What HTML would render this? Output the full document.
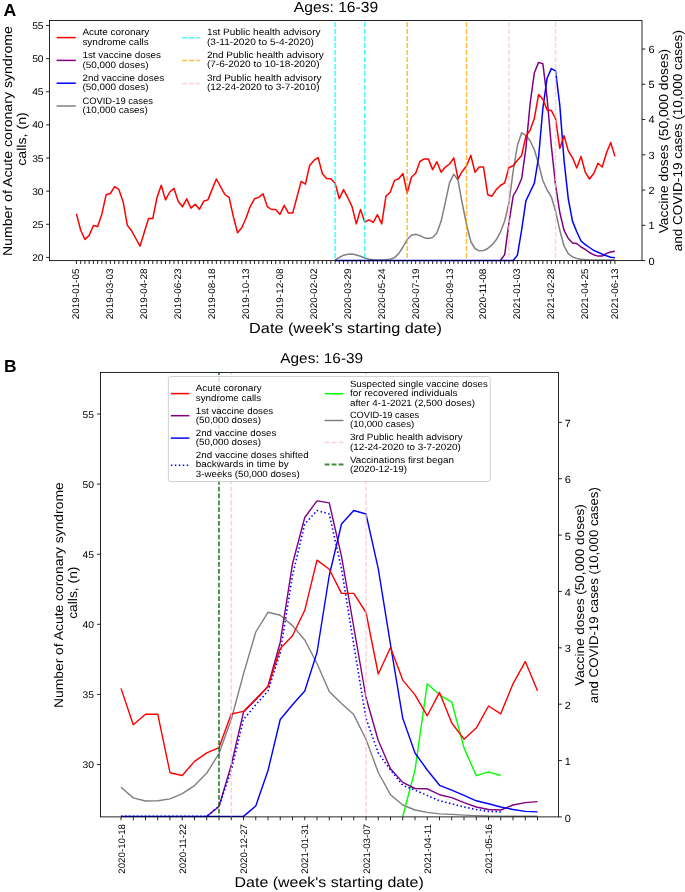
<!DOCTYPE html>
<html><head><meta charset="utf-8"><style>
html,body{margin:0;padding:0;background:#fff;}
svg{display:block;font-family:"Liberation Sans", sans-serif;text-rendering:geometricPrecision;will-change:transform;}
</style></head><body>
<svg width="685" height="892" viewBox="0 0 685 892">
<rect width="685" height="892" fill="#fff"/>
<polyline points="335.09,259.90 339.33,257.50 343.57,255.20 347.81,254.20 352.05,254.10 356.29,255.00 360.53,256.30 364.77,258.00 369.01,259.20 373.25,259.80 377.49,260.00 381.73,260.00 385.97,259.80 390.21,259.20 394.45,257.60 398.69,253.60 402.93,247.00 407.17,239.60 411.41,235.20 415.65,234.20 419.89,235.60 424.13,237.70 428.37,238.50 432.61,237.40 436.85,233.00 441.09,221.30 445.33,202.30 449.57,182.60 453.81,174.20 458.05,180.40 462.29,203.60 466.53,224.50 470.77,241.50 475.01,248.50 479.25,250.80 483.49,250.50 487.73,248.50 491.97,244.90 496.21,239.80 500.45,232.10 504.69,220.90 508.93,202.80 513.17,171.00 517.41,145.50 521.65,132.80 525.89,135.30 530.13,140.80 534.37,149.70 538.61,164.00 542.85,180.50 547.09,190.00 551.33,196.80 555.57,211.20 559.81,230.30 564.05,246.00 568.29,253.60 572.53,257.00 576.77,258.40 581.01,259.20 585.25,259.60 589.49,259.90 593.73,260.10 597.97,260.10 602.21,260.10 606.45,260.10 610.69,260.10 614.93,260.10" fill="none" stroke="#808080" stroke-width="1.5" stroke-linejoin="round" stroke-linecap="butt"/>
<polyline points="500.45,260.55 504.69,254.60 508.93,222.90 513.17,196.00 517.41,188.50 521.65,178.50 525.89,148.50 530.13,103.50 534.37,72.70 538.61,62.40 542.85,63.70 547.09,98.00 551.33,146.00 555.57,185.20 559.81,212.50 564.05,230.30 568.29,238.50 572.53,242.90 576.77,243.50 581.01,247.00 585.25,249.40 589.49,252.50 593.73,254.80 597.97,256.10 602.21,256.10 606.45,253.40 610.69,252.00 614.93,251.30" fill="none" stroke="#800080" stroke-width="1.5" stroke-linejoin="round" stroke-linecap="butt"/>
<polyline points="335.09,260.55 339.33,260.55 343.57,260.55 347.81,260.55 352.05,260.55 356.29,260.55 360.53,260.55 364.77,260.55 369.01,260.55 373.25,260.55 377.49,260.55 381.73,260.55 385.97,260.55 390.21,260.55 394.45,260.55 398.69,260.55 402.93,260.55 407.17,260.55 411.41,260.55 415.65,260.55 419.89,260.55 424.13,260.55 428.37,260.55 432.61,260.55 436.85,260.55 441.09,260.55 445.33,260.55 449.57,260.55 453.81,260.55 458.05,260.55 462.29,260.55 466.53,260.55 470.77,260.55 475.01,260.55 479.25,260.55 483.49,260.55 487.73,260.55 491.97,260.55 496.21,260.55 500.45,260.55 504.69,260.55 508.93,260.55 513.17,260.55 517.41,255.10 521.65,230.00 525.89,200.90 530.13,192.00 534.37,183.10 538.61,157.00 542.85,108.50 547.09,78.20 551.33,68.60 555.57,70.80 559.81,105.40 564.05,160.50 568.29,198.80 572.53,221.40 576.77,231.70 581.01,241.00 585.25,244.60 589.49,247.50 593.73,250.40 597.97,252.30 602.21,254.10 606.45,255.80 610.69,257.20 614.93,257.80" fill="none" stroke="#0000ff" stroke-width="1.5" stroke-linejoin="round" stroke-linecap="butt"/>
<polyline points="76.45,213.90 80.69,230.30 84.93,239.50 89.17,235.40 93.41,225.50 97.65,226.50 101.89,213.90 106.13,194.80 110.37,193.50 114.61,186.70 118.85,189.40 123.09,201.70 127.33,225.20 131.57,230.80 135.81,238.50 140.05,246.10 144.29,232.30 148.53,218.50 152.77,218.50 157.01,197.60 161.25,185.30 165.49,199.90 169.73,192.00 173.97,188.40 178.21,201.20 182.45,206.80 186.69,198.90 190.93,208.10 195.17,204.20 199.41,209.30 203.65,201.30 207.89,199.90 212.13,189.40 216.37,179.00 220.61,186.90 224.85,194.50 229.09,197.40 233.33,216.50 237.57,232.80 241.81,227.70 246.05,218.00 250.29,206.30 254.53,198.80 258.77,197.40 263.01,193.70 267.25,206.60 271.49,209.50 275.73,209.50 279.97,214.40 284.21,205.40 288.45,213.10 292.69,213.10 296.93,197.20 301.17,181.40 305.41,184.10 309.65,165.50 313.89,160.40 318.13,157.60 322.37,173.70 326.61,178.60 330.85,178.70 335.09,183.20 339.33,198.80 343.57,189.60 347.81,197.70 352.05,206.60 356.29,223.90 360.53,209.40 364.77,222.00 369.01,219.90 373.25,222.40 377.49,214.70 381.73,223.90 385.97,196.10 390.21,192.20 394.45,180.40 398.69,178.80 402.93,173.50 407.17,193.10 411.41,177.30 415.65,173.20 419.89,161.50 424.13,158.90 428.37,158.90 432.61,169.60 436.85,161.70 441.09,172.20 445.33,167.10 449.57,164.00 453.81,157.90 458.05,178.80 462.29,171.20 466.53,166.10 470.77,155.30 475.01,172.20 479.25,167.10 483.49,167.10 487.73,194.70 491.97,196.20 496.21,189.60 500.45,185.50 504.69,182.90 508.93,167.50 513.17,165.70 517.41,160.20 521.65,155.40 525.89,136.40 530.13,130.30 534.37,118.20 538.61,94.40 542.85,99.20 547.09,109.90 551.33,110.40 555.57,118.80 559.81,148.40 564.05,135.60 568.29,150.90 572.53,157.80 576.77,168.00 581.01,156.40 585.25,172.20 589.49,179.00 593.73,173.50 597.97,163.20 602.21,167.00 606.45,153.00 610.69,142.50 614.93,156.40" fill="none" stroke="#ff0000" stroke-width="1.5" stroke-linejoin="round" stroke-linecap="butt"/>
<line x1="335.09" y1="260.62" x2="335.09" y2="20.45" stroke="#00ffff" stroke-width="1.5" stroke-dasharray="4.9 2.1" stroke-opacity="0.75" stroke-dashoffset="4.4"/>
<line x1="364.77" y1="260.62" x2="364.77" y2="20.45" stroke="#00ffff" stroke-width="1.5" stroke-dasharray="4.9 2.1" stroke-opacity="0.75" stroke-dashoffset="4.4"/>
<line x1="407.17" y1="260.62" x2="407.17" y2="20.45" stroke="#ffa500" stroke-width="1.5" stroke-dasharray="4.9 2.1" stroke-opacity="0.75" stroke-dashoffset="4.4"/>
<line x1="466.53" y1="260.62" x2="466.53" y2="20.45" stroke="#ffa500" stroke-width="1.5" stroke-dasharray="4.9 2.1" stroke-opacity="0.75" stroke-dashoffset="4.4"/>
<line x1="508.93" y1="260.62" x2="508.93" y2="20.45" stroke="#ffc0cb" stroke-width="1.5" stroke-dasharray="4.9 2.1" stroke-opacity="0.75" stroke-dashoffset="4.4"/>
<line x1="555.57" y1="260.62" x2="555.57" y2="20.45" stroke="#ffc0cb" stroke-width="1.5" stroke-dasharray="4.9 2.1" stroke-opacity="0.75" stroke-dashoffset="4.4"/>
<rect x="49.52" y="20.45" width="592.48" height="240.17000000000002" fill="none" stroke="#000" stroke-width="0.85"/>
<line x1="46.12" y1="257.43" x2="49.52" y2="257.43" stroke="#000" stroke-width="0.85"/>
<text x="43.60" y="260.93" font-size="9.70" text-anchor="end" textLength="11.45" lengthAdjust="spacingAndGlyphs" fill="#000">20</text>
<line x1="46.12" y1="224.29" x2="49.52" y2="224.29" stroke="#000" stroke-width="0.85"/>
<text x="43.60" y="227.79" font-size="9.70" text-anchor="end" textLength="11.45" lengthAdjust="spacingAndGlyphs" fill="#000">25</text>
<line x1="46.12" y1="191.15" x2="49.52" y2="191.15" stroke="#000" stroke-width="0.85"/>
<text x="43.60" y="194.65" font-size="9.70" text-anchor="end" textLength="11.45" lengthAdjust="spacingAndGlyphs" fill="#000">30</text>
<line x1="46.12" y1="158.02" x2="49.52" y2="158.02" stroke="#000" stroke-width="0.85"/>
<text x="43.60" y="161.52" font-size="9.70" text-anchor="end" textLength="11.45" lengthAdjust="spacingAndGlyphs" fill="#000">35</text>
<line x1="46.12" y1="124.89" x2="49.52" y2="124.89" stroke="#000" stroke-width="0.85"/>
<text x="43.60" y="128.38" font-size="9.70" text-anchor="end" textLength="11.45" lengthAdjust="spacingAndGlyphs" fill="#000">40</text>
<line x1="46.12" y1="91.75" x2="49.52" y2="91.75" stroke="#000" stroke-width="0.85"/>
<text x="43.60" y="95.25" font-size="9.70" text-anchor="end" textLength="11.45" lengthAdjust="spacingAndGlyphs" fill="#000">45</text>
<line x1="46.12" y1="58.61" x2="49.52" y2="58.61" stroke="#000" stroke-width="0.85"/>
<text x="43.60" y="62.11" font-size="9.70" text-anchor="end" textLength="11.45" lengthAdjust="spacingAndGlyphs" fill="#000">50</text>
<line x1="46.12" y1="25.48" x2="49.52" y2="25.48" stroke="#000" stroke-width="0.85"/>
<text x="43.60" y="28.98" font-size="9.70" text-anchor="end" textLength="11.45" lengthAdjust="spacingAndGlyphs" fill="#000">55</text>
<line x1="642.00" y1="260.62" x2="645.40" y2="260.62" stroke="#000" stroke-width="0.85"/>
<text x="648.50" y="264.52" font-size="10.40" text-anchor="start" textLength="6.11" lengthAdjust="spacingAndGlyphs" fill="#000">0</text>
<line x1="642.00" y1="225.35" x2="645.40" y2="225.35" stroke="#000" stroke-width="0.85"/>
<text x="648.50" y="229.25" font-size="10.40" text-anchor="start" textLength="6.11" lengthAdjust="spacingAndGlyphs" fill="#000">1</text>
<line x1="642.00" y1="190.08" x2="645.40" y2="190.08" stroke="#000" stroke-width="0.85"/>
<text x="648.50" y="193.98" font-size="10.40" text-anchor="start" textLength="6.11" lengthAdjust="spacingAndGlyphs" fill="#000">2</text>
<line x1="642.00" y1="154.81" x2="645.40" y2="154.81" stroke="#000" stroke-width="0.85"/>
<text x="648.50" y="158.71" font-size="10.40" text-anchor="start" textLength="6.11" lengthAdjust="spacingAndGlyphs" fill="#000">3</text>
<line x1="642.00" y1="119.54" x2="645.40" y2="119.54" stroke="#000" stroke-width="0.85"/>
<text x="648.50" y="123.44" font-size="10.40" text-anchor="start" textLength="6.11" lengthAdjust="spacingAndGlyphs" fill="#000">4</text>
<line x1="642.00" y1="84.27" x2="645.40" y2="84.27" stroke="#000" stroke-width="0.85"/>
<text x="648.50" y="88.17" font-size="10.40" text-anchor="start" textLength="6.11" lengthAdjust="spacingAndGlyphs" fill="#000">5</text>
<line x1="642.00" y1="49.00" x2="645.40" y2="49.00" stroke="#000" stroke-width="0.85"/>
<text x="648.50" y="52.90" font-size="10.40" text-anchor="start" textLength="6.11" lengthAdjust="spacingAndGlyphs" fill="#000">6</text>
<line x1="76.45" y1="260.62" x2="76.45" y2="264.02" stroke="#000" stroke-width="0.85"/>
<line x1="80.69" y1="260.62" x2="80.69" y2="264.02" stroke="#000" stroke-width="0.85"/>
<line x1="84.93" y1="260.62" x2="84.93" y2="264.02" stroke="#000" stroke-width="0.85"/>
<line x1="89.17" y1="260.62" x2="89.17" y2="264.02" stroke="#000" stroke-width="0.85"/>
<line x1="93.41" y1="260.62" x2="93.41" y2="264.02" stroke="#000" stroke-width="0.85"/>
<line x1="97.65" y1="260.62" x2="97.65" y2="264.02" stroke="#000" stroke-width="0.85"/>
<line x1="101.89" y1="260.62" x2="101.89" y2="264.02" stroke="#000" stroke-width="0.85"/>
<line x1="106.13" y1="260.62" x2="106.13" y2="264.02" stroke="#000" stroke-width="0.85"/>
<line x1="110.37" y1="260.62" x2="110.37" y2="264.02" stroke="#000" stroke-width="0.85"/>
<line x1="114.61" y1="260.62" x2="114.61" y2="264.02" stroke="#000" stroke-width="0.85"/>
<line x1="118.85" y1="260.62" x2="118.85" y2="264.02" stroke="#000" stroke-width="0.85"/>
<line x1="123.09" y1="260.62" x2="123.09" y2="264.02" stroke="#000" stroke-width="0.85"/>
<line x1="127.33" y1="260.62" x2="127.33" y2="264.02" stroke="#000" stroke-width="0.85"/>
<line x1="131.57" y1="260.62" x2="131.57" y2="264.02" stroke="#000" stroke-width="0.85"/>
<line x1="135.81" y1="260.62" x2="135.81" y2="264.02" stroke="#000" stroke-width="0.85"/>
<line x1="140.05" y1="260.62" x2="140.05" y2="264.02" stroke="#000" stroke-width="0.85"/>
<line x1="144.29" y1="260.62" x2="144.29" y2="264.02" stroke="#000" stroke-width="0.85"/>
<line x1="148.53" y1="260.62" x2="148.53" y2="264.02" stroke="#000" stroke-width="0.85"/>
<line x1="152.77" y1="260.62" x2="152.77" y2="264.02" stroke="#000" stroke-width="0.85"/>
<line x1="157.01" y1="260.62" x2="157.01" y2="264.02" stroke="#000" stroke-width="0.85"/>
<line x1="161.25" y1="260.62" x2="161.25" y2="264.02" stroke="#000" stroke-width="0.85"/>
<line x1="165.49" y1="260.62" x2="165.49" y2="264.02" stroke="#000" stroke-width="0.85"/>
<line x1="169.73" y1="260.62" x2="169.73" y2="264.02" stroke="#000" stroke-width="0.85"/>
<line x1="173.97" y1="260.62" x2="173.97" y2="264.02" stroke="#000" stroke-width="0.85"/>
<line x1="178.21" y1="260.62" x2="178.21" y2="264.02" stroke="#000" stroke-width="0.85"/>
<line x1="182.45" y1="260.62" x2="182.45" y2="264.02" stroke="#000" stroke-width="0.85"/>
<line x1="186.69" y1="260.62" x2="186.69" y2="264.02" stroke="#000" stroke-width="0.85"/>
<line x1="190.93" y1="260.62" x2="190.93" y2="264.02" stroke="#000" stroke-width="0.85"/>
<line x1="195.17" y1="260.62" x2="195.17" y2="264.02" stroke="#000" stroke-width="0.85"/>
<line x1="199.41" y1="260.62" x2="199.41" y2="264.02" stroke="#000" stroke-width="0.85"/>
<line x1="203.65" y1="260.62" x2="203.65" y2="264.02" stroke="#000" stroke-width="0.85"/>
<line x1="207.89" y1="260.62" x2="207.89" y2="264.02" stroke="#000" stroke-width="0.85"/>
<line x1="212.13" y1="260.62" x2="212.13" y2="264.02" stroke="#000" stroke-width="0.85"/>
<line x1="216.37" y1="260.62" x2="216.37" y2="264.02" stroke="#000" stroke-width="0.85"/>
<line x1="220.61" y1="260.62" x2="220.61" y2="264.02" stroke="#000" stroke-width="0.85"/>
<line x1="224.85" y1="260.62" x2="224.85" y2="264.02" stroke="#000" stroke-width="0.85"/>
<line x1="229.09" y1="260.62" x2="229.09" y2="264.02" stroke="#000" stroke-width="0.85"/>
<line x1="233.33" y1="260.62" x2="233.33" y2="264.02" stroke="#000" stroke-width="0.85"/>
<line x1="237.57" y1="260.62" x2="237.57" y2="264.02" stroke="#000" stroke-width="0.85"/>
<line x1="241.81" y1="260.62" x2="241.81" y2="264.02" stroke="#000" stroke-width="0.85"/>
<line x1="246.05" y1="260.62" x2="246.05" y2="264.02" stroke="#000" stroke-width="0.85"/>
<line x1="250.29" y1="260.62" x2="250.29" y2="264.02" stroke="#000" stroke-width="0.85"/>
<line x1="254.53" y1="260.62" x2="254.53" y2="264.02" stroke="#000" stroke-width="0.85"/>
<line x1="258.77" y1="260.62" x2="258.77" y2="264.02" stroke="#000" stroke-width="0.85"/>
<line x1="263.01" y1="260.62" x2="263.01" y2="264.02" stroke="#000" stroke-width="0.85"/>
<line x1="267.25" y1="260.62" x2="267.25" y2="264.02" stroke="#000" stroke-width="0.85"/>
<line x1="271.49" y1="260.62" x2="271.49" y2="264.02" stroke="#000" stroke-width="0.85"/>
<line x1="275.73" y1="260.62" x2="275.73" y2="264.02" stroke="#000" stroke-width="0.85"/>
<line x1="279.97" y1="260.62" x2="279.97" y2="264.02" stroke="#000" stroke-width="0.85"/>
<line x1="284.21" y1="260.62" x2="284.21" y2="264.02" stroke="#000" stroke-width="0.85"/>
<line x1="288.45" y1="260.62" x2="288.45" y2="264.02" stroke="#000" stroke-width="0.85"/>
<line x1="292.69" y1="260.62" x2="292.69" y2="264.02" stroke="#000" stroke-width="0.85"/>
<line x1="296.93" y1="260.62" x2="296.93" y2="264.02" stroke="#000" stroke-width="0.85"/>
<line x1="301.17" y1="260.62" x2="301.17" y2="264.02" stroke="#000" stroke-width="0.85"/>
<line x1="305.41" y1="260.62" x2="305.41" y2="264.02" stroke="#000" stroke-width="0.85"/>
<line x1="309.65" y1="260.62" x2="309.65" y2="264.02" stroke="#000" stroke-width="0.85"/>
<line x1="313.89" y1="260.62" x2="313.89" y2="264.02" stroke="#000" stroke-width="0.85"/>
<line x1="318.13" y1="260.62" x2="318.13" y2="264.02" stroke="#000" stroke-width="0.85"/>
<line x1="322.37" y1="260.62" x2="322.37" y2="264.02" stroke="#000" stroke-width="0.85"/>
<line x1="326.61" y1="260.62" x2="326.61" y2="264.02" stroke="#000" stroke-width="0.85"/>
<line x1="330.85" y1="260.62" x2="330.85" y2="264.02" stroke="#000" stroke-width="0.85"/>
<line x1="335.09" y1="260.62" x2="335.09" y2="264.02" stroke="#000" stroke-width="0.85"/>
<line x1="339.33" y1="260.62" x2="339.33" y2="264.02" stroke="#000" stroke-width="0.85"/>
<line x1="343.57" y1="260.62" x2="343.57" y2="264.02" stroke="#000" stroke-width="0.85"/>
<line x1="347.81" y1="260.62" x2="347.81" y2="264.02" stroke="#000" stroke-width="0.85"/>
<line x1="352.05" y1="260.62" x2="352.05" y2="264.02" stroke="#000" stroke-width="0.85"/>
<line x1="356.29" y1="260.62" x2="356.29" y2="264.02" stroke="#000" stroke-width="0.85"/>
<line x1="360.53" y1="260.62" x2="360.53" y2="264.02" stroke="#000" stroke-width="0.85"/>
<line x1="364.77" y1="260.62" x2="364.77" y2="264.02" stroke="#000" stroke-width="0.85"/>
<line x1="369.01" y1="260.62" x2="369.01" y2="264.02" stroke="#000" stroke-width="0.85"/>
<line x1="373.25" y1="260.62" x2="373.25" y2="264.02" stroke="#000" stroke-width="0.85"/>
<line x1="377.49" y1="260.62" x2="377.49" y2="264.02" stroke="#000" stroke-width="0.85"/>
<line x1="381.73" y1="260.62" x2="381.73" y2="264.02" stroke="#000" stroke-width="0.85"/>
<line x1="385.97" y1="260.62" x2="385.97" y2="264.02" stroke="#000" stroke-width="0.85"/>
<line x1="390.21" y1="260.62" x2="390.21" y2="264.02" stroke="#000" stroke-width="0.85"/>
<line x1="394.45" y1="260.62" x2="394.45" y2="264.02" stroke="#000" stroke-width="0.85"/>
<line x1="398.69" y1="260.62" x2="398.69" y2="264.02" stroke="#000" stroke-width="0.85"/>
<line x1="402.93" y1="260.62" x2="402.93" y2="264.02" stroke="#000" stroke-width="0.85"/>
<line x1="407.17" y1="260.62" x2="407.17" y2="264.02" stroke="#000" stroke-width="0.85"/>
<line x1="411.41" y1="260.62" x2="411.41" y2="264.02" stroke="#000" stroke-width="0.85"/>
<line x1="415.65" y1="260.62" x2="415.65" y2="264.02" stroke="#000" stroke-width="0.85"/>
<line x1="419.89" y1="260.62" x2="419.89" y2="264.02" stroke="#000" stroke-width="0.85"/>
<line x1="424.13" y1="260.62" x2="424.13" y2="264.02" stroke="#000" stroke-width="0.85"/>
<line x1="428.37" y1="260.62" x2="428.37" y2="264.02" stroke="#000" stroke-width="0.85"/>
<line x1="432.61" y1="260.62" x2="432.61" y2="264.02" stroke="#000" stroke-width="0.85"/>
<line x1="436.85" y1="260.62" x2="436.85" y2="264.02" stroke="#000" stroke-width="0.85"/>
<line x1="441.09" y1="260.62" x2="441.09" y2="264.02" stroke="#000" stroke-width="0.85"/>
<line x1="445.33" y1="260.62" x2="445.33" y2="264.02" stroke="#000" stroke-width="0.85"/>
<line x1="449.57" y1="260.62" x2="449.57" y2="264.02" stroke="#000" stroke-width="0.85"/>
<line x1="453.81" y1="260.62" x2="453.81" y2="264.02" stroke="#000" stroke-width="0.85"/>
<line x1="458.05" y1="260.62" x2="458.05" y2="264.02" stroke="#000" stroke-width="0.85"/>
<line x1="462.29" y1="260.62" x2="462.29" y2="264.02" stroke="#000" stroke-width="0.85"/>
<line x1="466.53" y1="260.62" x2="466.53" y2="264.02" stroke="#000" stroke-width="0.85"/>
<line x1="470.77" y1="260.62" x2="470.77" y2="264.02" stroke="#000" stroke-width="0.85"/>
<line x1="475.01" y1="260.62" x2="475.01" y2="264.02" stroke="#000" stroke-width="0.85"/>
<line x1="479.25" y1="260.62" x2="479.25" y2="264.02" stroke="#000" stroke-width="0.85"/>
<line x1="483.49" y1="260.62" x2="483.49" y2="264.02" stroke="#000" stroke-width="0.85"/>
<line x1="487.73" y1="260.62" x2="487.73" y2="264.02" stroke="#000" stroke-width="0.85"/>
<line x1="491.97" y1="260.62" x2="491.97" y2="264.02" stroke="#000" stroke-width="0.85"/>
<line x1="496.21" y1="260.62" x2="496.21" y2="264.02" stroke="#000" stroke-width="0.85"/>
<line x1="500.45" y1="260.62" x2="500.45" y2="264.02" stroke="#000" stroke-width="0.85"/>
<line x1="504.69" y1="260.62" x2="504.69" y2="264.02" stroke="#000" stroke-width="0.85"/>
<line x1="508.93" y1="260.62" x2="508.93" y2="264.02" stroke="#000" stroke-width="0.85"/>
<line x1="513.17" y1="260.62" x2="513.17" y2="264.02" stroke="#000" stroke-width="0.85"/>
<line x1="517.41" y1="260.62" x2="517.41" y2="264.02" stroke="#000" stroke-width="0.85"/>
<line x1="521.65" y1="260.62" x2="521.65" y2="264.02" stroke="#000" stroke-width="0.85"/>
<line x1="525.89" y1="260.62" x2="525.89" y2="264.02" stroke="#000" stroke-width="0.85"/>
<line x1="530.13" y1="260.62" x2="530.13" y2="264.02" stroke="#000" stroke-width="0.85"/>
<line x1="534.37" y1="260.62" x2="534.37" y2="264.02" stroke="#000" stroke-width="0.85"/>
<line x1="538.61" y1="260.62" x2="538.61" y2="264.02" stroke="#000" stroke-width="0.85"/>
<line x1="542.85" y1="260.62" x2="542.85" y2="264.02" stroke="#000" stroke-width="0.85"/>
<line x1="547.09" y1="260.62" x2="547.09" y2="264.02" stroke="#000" stroke-width="0.85"/>
<line x1="551.33" y1="260.62" x2="551.33" y2="264.02" stroke="#000" stroke-width="0.85"/>
<line x1="555.57" y1="260.62" x2="555.57" y2="264.02" stroke="#000" stroke-width="0.85"/>
<line x1="559.81" y1="260.62" x2="559.81" y2="264.02" stroke="#000" stroke-width="0.85"/>
<line x1="564.05" y1="260.62" x2="564.05" y2="264.02" stroke="#000" stroke-width="0.85"/>
<line x1="568.29" y1="260.62" x2="568.29" y2="264.02" stroke="#000" stroke-width="0.85"/>
<line x1="572.53" y1="260.62" x2="572.53" y2="264.02" stroke="#000" stroke-width="0.85"/>
<line x1="576.77" y1="260.62" x2="576.77" y2="264.02" stroke="#000" stroke-width="0.85"/>
<line x1="581.01" y1="260.62" x2="581.01" y2="264.02" stroke="#000" stroke-width="0.85"/>
<line x1="585.25" y1="260.62" x2="585.25" y2="264.02" stroke="#000" stroke-width="0.85"/>
<line x1="589.49" y1="260.62" x2="589.49" y2="264.02" stroke="#000" stroke-width="0.85"/>
<line x1="593.73" y1="260.62" x2="593.73" y2="264.02" stroke="#000" stroke-width="0.85"/>
<line x1="597.97" y1="260.62" x2="597.97" y2="264.02" stroke="#000" stroke-width="0.85"/>
<line x1="602.21" y1="260.62" x2="602.21" y2="264.02" stroke="#000" stroke-width="0.85"/>
<line x1="606.45" y1="260.62" x2="606.45" y2="264.02" stroke="#000" stroke-width="0.85"/>
<line x1="610.69" y1="260.62" x2="610.69" y2="264.02" stroke="#000" stroke-width="0.85"/>
<line x1="614.93" y1="260.62" x2="614.93" y2="264.02" stroke="#000" stroke-width="0.85"/>
<text transform="translate(79.45,268.60) rotate(-90)" font-size="9.60" text-anchor="end" textLength="50.56" lengthAdjust="spacingAndGlyphs" fill="#000">2019-01-05</text>
<text transform="translate(113.37,268.60) rotate(-90)" font-size="9.60" text-anchor="end" textLength="50.56" lengthAdjust="spacingAndGlyphs" fill="#000">2019-03-03</text>
<text transform="translate(147.29,268.60) rotate(-90)" font-size="9.60" text-anchor="end" textLength="50.56" lengthAdjust="spacingAndGlyphs" fill="#000">2019-04-28</text>
<text transform="translate(181.21,268.60) rotate(-90)" font-size="9.60" text-anchor="end" textLength="50.56" lengthAdjust="spacingAndGlyphs" fill="#000">2019-06-23</text>
<text transform="translate(215.13,268.60) rotate(-90)" font-size="9.60" text-anchor="end" textLength="50.56" lengthAdjust="spacingAndGlyphs" fill="#000">2019-08-18</text>
<text transform="translate(249.05,268.60) rotate(-90)" font-size="9.60" text-anchor="end" textLength="50.56" lengthAdjust="spacingAndGlyphs" fill="#000">2019-10-13</text>
<text transform="translate(282.97,268.60) rotate(-90)" font-size="9.60" text-anchor="end" textLength="50.56" lengthAdjust="spacingAndGlyphs" fill="#000">2019-12-08</text>
<text transform="translate(316.89,268.60) rotate(-90)" font-size="9.60" text-anchor="end" textLength="50.56" lengthAdjust="spacingAndGlyphs" fill="#000">2020-02-02</text>
<text transform="translate(350.81,268.60) rotate(-90)" font-size="9.60" text-anchor="end" textLength="50.56" lengthAdjust="spacingAndGlyphs" fill="#000">2020-03-29</text>
<text transform="translate(384.73,268.60) rotate(-90)" font-size="9.60" text-anchor="end" textLength="50.56" lengthAdjust="spacingAndGlyphs" fill="#000">2020-05-24</text>
<text transform="translate(418.65,268.60) rotate(-90)" font-size="9.60" text-anchor="end" textLength="50.56" lengthAdjust="spacingAndGlyphs" fill="#000">2020-07-19</text>
<text transform="translate(452.57,268.60) rotate(-90)" font-size="9.60" text-anchor="end" textLength="50.56" lengthAdjust="spacingAndGlyphs" fill="#000">2020-09-13</text>
<text transform="translate(486.49,268.60) rotate(-90)" font-size="9.60" text-anchor="end" textLength="50.56" lengthAdjust="spacingAndGlyphs" fill="#000">2020-11-08</text>
<text transform="translate(520.41,268.60) rotate(-90)" font-size="9.60" text-anchor="end" textLength="50.56" lengthAdjust="spacingAndGlyphs" fill="#000">2021-01-03</text>
<text transform="translate(554.33,268.60) rotate(-90)" font-size="9.60" text-anchor="end" textLength="50.56" lengthAdjust="spacingAndGlyphs" fill="#000">2021-02-28</text>
<text transform="translate(588.25,268.60) rotate(-90)" font-size="9.60" text-anchor="end" textLength="50.56" lengthAdjust="spacingAndGlyphs" fill="#000">2021-04-25</text>
<text transform="translate(617.93,268.60) rotate(-90)" font-size="9.60" text-anchor="end" textLength="50.56" lengthAdjust="spacingAndGlyphs" fill="#000">2021-06-13</text>
<text x="336.00" y="11.70" font-size="14.66" text-anchor="middle" textLength="84.28" lengthAdjust="spacingAndGlyphs" fill="#000">Ages: 16-39</text>
<text x="345.50" y="332.50" font-size="14.60" text-anchor="middle" textLength="192.73" lengthAdjust="spacingAndGlyphs" fill="#000">Date (week&#39;s starting date)</text>
<text transform="translate(11.90,141.10) rotate(-90)" font-size="12.92" text-anchor="middle" textLength="229.98" lengthAdjust="spacingAndGlyphs" fill="#000">Number of Acute coronary syndrome</text>
<text transform="translate(26.10,139.00) rotate(-90)" font-size="12.92" text-anchor="middle" textLength="53.46" lengthAdjust="spacingAndGlyphs" fill="#000">calls, (n)</text>
<text transform="translate(667.80,141.10) rotate(-90)" font-size="12.92" text-anchor="middle" textLength="184.50" lengthAdjust="spacingAndGlyphs" fill="#000">Vaccine doses (50,000 doses)</text>
<text transform="translate(681.90,140.75) rotate(-90)" font-size="12.92" text-anchor="middle" textLength="221.25" lengthAdjust="spacingAndGlyphs" fill="#000">and COVID-19 cases (10,000 cases)</text>
<text x="3.60" y="15.70" font-size="17.32" text-anchor="start" textLength="12.77" lengthAdjust="spacingAndGlyphs" fill="#000" font-weight="bold">A</text>
<line x1="56.60" y1="37.60" x2="75.80" y2="37.60" stroke="#ff0000" stroke-width="1.5"/>
<text x="82.40" y="35.40" font-size="9.26" text-anchor="start" textLength="66.92" lengthAdjust="spacingAndGlyphs" fill="#000">Acute coronary</text>
<text x="82.40" y="44.80" font-size="9.26" text-anchor="start" textLength="66.41" lengthAdjust="spacingAndGlyphs" fill="#000">syndrome calls</text>
<line x1="56.60" y1="60.40" x2="75.80" y2="60.40" stroke="#800080" stroke-width="1.5"/>
<text x="82.40" y="58.20" font-size="9.26" text-anchor="start" textLength="78.68" lengthAdjust="spacingAndGlyphs" fill="#000">1st vaccine doses</text>
<text x="82.40" y="67.60" font-size="9.26" text-anchor="start" textLength="66.16" lengthAdjust="spacingAndGlyphs" fill="#000">(50,000 doses)</text>
<line x1="56.60" y1="83.20" x2="75.80" y2="83.20" stroke="#0000ff" stroke-width="1.5"/>
<text x="82.40" y="81.00" font-size="9.26" text-anchor="start" textLength="81.81" lengthAdjust="spacingAndGlyphs" fill="#000">2nd vaccine doses</text>
<text x="82.40" y="90.40" font-size="9.26" text-anchor="start" textLength="66.16" lengthAdjust="spacingAndGlyphs" fill="#000">(50,000 doses)</text>
<line x1="56.60" y1="106.00" x2="75.80" y2="106.00" stroke="#808080" stroke-width="1.5"/>
<text x="82.40" y="103.80" font-size="9.26" text-anchor="start" textLength="70.45" lengthAdjust="spacingAndGlyphs" fill="#000">COVID-19 cases</text>
<text x="82.40" y="113.20" font-size="9.26" text-anchor="start" textLength="65.42" lengthAdjust="spacingAndGlyphs" fill="#000">(10,000 cases)</text>
<line x1="182.10" y1="37.80" x2="199.90" y2="37.80" stroke="#00ffff" stroke-width="1.5" stroke-dasharray="5.0 2.1" stroke-opacity="0.75"/>
<text x="206.90" y="35.40" font-size="9.26" text-anchor="start" textLength="113.61" lengthAdjust="spacingAndGlyphs" fill="#000">1st Public health advisory</text>
<text x="206.90" y="44.60" font-size="9.26" text-anchor="start" textLength="107.03" lengthAdjust="spacingAndGlyphs" fill="#000">(3-11-2020 to 5-4-2020)</text>
<line x1="182.10" y1="60.60" x2="199.90" y2="60.60" stroke="#ffa500" stroke-width="1.5" stroke-dasharray="5.0 2.1" stroke-opacity="0.75"/>
<text x="206.90" y="58.20" font-size="9.26" text-anchor="start" textLength="116.75" lengthAdjust="spacingAndGlyphs" fill="#000">2nd Public health advisory</text>
<text x="206.90" y="67.40" font-size="9.26" text-anchor="start" textLength="112.64" lengthAdjust="spacingAndGlyphs" fill="#000">(7-6-2020 to 10-18-2020)</text>
<line x1="182.10" y1="83.40" x2="199.90" y2="83.40" stroke="#ffc0cb" stroke-width="1.5" stroke-dasharray="5.0 2.1" stroke-opacity="0.75"/>
<text x="206.90" y="81.00" font-size="9.26" text-anchor="start" textLength="114.63" lengthAdjust="spacingAndGlyphs" fill="#000">3rd Public health advisory</text>
<text x="206.90" y="90.20" font-size="9.26" text-anchor="start" textLength="112.64" lengthAdjust="spacingAndGlyphs" fill="#000">(12-24-2020 to 3-7-2010)</text>
<polyline points="121.00,787.20 133.25,797.90 145.50,801.00 157.75,800.80 170.00,798.90 182.25,793.70 194.50,785.60 206.75,773.10 219.00,753.50 231.25,719.50 243.50,673.90 255.75,632.00 268.00,612.30 280.25,615.20 292.50,625.60 304.75,640.00 317.00,663.50 329.25,691.50 341.50,703.50 353.75,714.60 366.00,739.20 378.25,772.50 390.50,794.70 402.75,805.00 415.00,810.00 427.25,812.40 439.50,813.90 451.75,814.40 464.00,815.10 476.25,815.60 488.50,816.00 500.75,816.10 513.00,816.20 525.25,816.20 537.50,816.20" fill="none" stroke="#808080" stroke-width="1.4" stroke-linejoin="round" stroke-linecap="butt"/>
<polyline points="402.75,816.40 415.00,770.00 427.25,683.80 439.50,694.80 451.75,702.20 464.00,747.90 476.25,775.70 488.50,771.80 500.75,775.50" fill="none" stroke="#00ff00" stroke-width="1.4" stroke-linejoin="round" stroke-linecap="butt"/>
<polyline points="206.75,816.40 219.00,806.50 231.25,765.10 243.50,712.10 255.75,699.80 268.00,686.20 280.25,642.20 292.50,563.80 304.75,517.50 317.00,500.90 329.25,502.90 341.50,556.40 353.75,627.00 366.00,697.50 378.25,740.50 390.50,768.80 402.75,782.40 415.00,788.50 427.25,788.80 439.50,794.70 451.75,797.60 464.00,802.60 476.25,807.00 488.50,809.50 500.75,810.00 513.00,805.00 525.25,802.60 537.50,801.60" fill="none" stroke="#800080" stroke-width="1.4" stroke-linejoin="round" stroke-linecap="butt"/>
<polyline points="121.00,816.40 133.25,816.40 145.50,816.40 157.75,816.40 170.00,816.40 182.25,816.40 194.50,816.40 206.75,816.40 219.00,816.40 231.25,816.40 243.50,816.40 255.75,806.00 268.00,770.60 280.25,719.50 292.50,704.80 304.75,691.00 317.00,652.50 329.25,575.50 341.50,524.00 353.75,510.50 366.00,514.00 378.25,568.70 390.50,644.70 402.75,718.30 415.00,753.00 427.25,770.00 439.50,785.30 451.75,790.20 464.00,795.40 476.25,800.80 488.50,803.80 500.75,807.00 513.00,809.50 525.25,811.40 537.50,811.90" fill="none" stroke="#0000ff" stroke-width="1.4" stroke-linejoin="round" stroke-linecap="butt"/>
<polyline points="121.00,816.40 133.25,816.40 145.50,816.40 157.75,816.40 170.00,816.40 182.25,816.40 194.50,816.40 206.75,816.40 219.00,806.00 231.25,770.60 243.50,719.50 255.75,704.80 268.00,691.00 280.25,652.50 292.50,575.50 304.75,524.00 317.00,510.50 329.25,514.00 341.50,568.70 353.75,644.70 366.00,718.30 378.25,753.00 390.50,770.00 402.75,785.30 415.00,790.20 427.25,795.40 439.50,800.80 451.75,803.80 464.00,807.00 476.25,809.50 488.50,811.40 500.75,811.90" fill="none" stroke="#0000ff" stroke-width="1.6" stroke-linejoin="round" stroke-linecap="butt" stroke-dasharray="1.5 2.45"/>
<polyline points="121.00,688.40 133.25,724.70 145.50,714.20 157.75,714.20 170.00,772.70 182.25,775.50 194.50,761.40 206.75,752.90 219.00,747.60 231.25,714.00 243.50,711.40 255.75,699.10 268.00,686.70 280.25,648.50 292.50,635.70 304.75,610.30 317.00,560.10 329.25,569.20 341.50,593.40 353.75,593.40 366.00,612.50 378.25,674.00 390.50,647.50 402.75,680.10 415.00,694.90 427.25,715.80 439.50,692.40 451.75,723.00 464.00,739.20 476.25,728.10 488.50,706.00 500.75,713.80 513.00,683.80 525.25,661.60 537.50,690.70" fill="none" stroke="#ff0000" stroke-width="1.4" stroke-linejoin="round" stroke-linecap="butt"/>
<line x1="231.25" y1="816.88" x2="231.25" y2="372.50" stroke="#ffc0cb" stroke-width="1.5" stroke-dasharray="4.75 2.1" stroke-opacity="0.75" stroke-dashoffset="3.2"/>
<line x1="366.00" y1="816.88" x2="366.00" y2="372.50" stroke="#ffc0cb" stroke-width="1.5" stroke-dasharray="4.75 2.1" stroke-opacity="0.75" stroke-dashoffset="3.2"/>
<line x1="219.00" y1="816.88" x2="219.00" y2="372.50" stroke="#006400" stroke-width="1.8" stroke-dasharray="4.75 2.1" stroke-opacity="0.75" stroke-dashoffset="3.4"/>
<rect x="100.46" y="372.5" width="458.04" height="444.38" fill="none" stroke="#000" stroke-width="0.85"/>
<line x1="97.06" y1="764.52" x2="100.46" y2="764.52" stroke="#000" stroke-width="0.85"/>
<text x="93.90" y="768.02" font-size="9.70" text-anchor="end" textLength="11.45" lengthAdjust="spacingAndGlyphs" fill="#000">30</text>
<line x1="97.06" y1="694.42" x2="100.46" y2="694.42" stroke="#000" stroke-width="0.85"/>
<text x="93.90" y="697.92" font-size="9.70" text-anchor="end" textLength="11.45" lengthAdjust="spacingAndGlyphs" fill="#000">35</text>
<line x1="97.06" y1="624.32" x2="100.46" y2="624.32" stroke="#000" stroke-width="0.85"/>
<text x="93.90" y="627.82" font-size="9.70" text-anchor="end" textLength="11.45" lengthAdjust="spacingAndGlyphs" fill="#000">40</text>
<line x1="97.06" y1="554.22" x2="100.46" y2="554.22" stroke="#000" stroke-width="0.85"/>
<text x="93.90" y="557.72" font-size="9.70" text-anchor="end" textLength="11.45" lengthAdjust="spacingAndGlyphs" fill="#000">45</text>
<line x1="97.06" y1="484.12" x2="100.46" y2="484.12" stroke="#000" stroke-width="0.85"/>
<text x="93.90" y="487.62" font-size="9.70" text-anchor="end" textLength="11.45" lengthAdjust="spacingAndGlyphs" fill="#000">50</text>
<line x1="97.06" y1="414.02" x2="100.46" y2="414.02" stroke="#000" stroke-width="0.85"/>
<text x="93.90" y="417.52" font-size="9.70" text-anchor="end" textLength="11.45" lengthAdjust="spacingAndGlyphs" fill="#000">55</text>
<line x1="558.50" y1="816.90" x2="561.90" y2="816.90" stroke="#000" stroke-width="0.85"/>
<text x="564.80" y="821.50" font-size="10.40" text-anchor="start" textLength="6.11" lengthAdjust="spacingAndGlyphs" fill="#000">0</text>
<line x1="558.50" y1="760.54" x2="561.90" y2="760.54" stroke="#000" stroke-width="0.85"/>
<text x="564.80" y="765.14" font-size="10.40" text-anchor="start" textLength="6.11" lengthAdjust="spacingAndGlyphs" fill="#000">1</text>
<line x1="558.50" y1="704.18" x2="561.90" y2="704.18" stroke="#000" stroke-width="0.85"/>
<text x="564.80" y="708.78" font-size="10.40" text-anchor="start" textLength="6.11" lengthAdjust="spacingAndGlyphs" fill="#000">2</text>
<line x1="558.50" y1="647.82" x2="561.90" y2="647.82" stroke="#000" stroke-width="0.85"/>
<text x="564.80" y="652.42" font-size="10.40" text-anchor="start" textLength="6.11" lengthAdjust="spacingAndGlyphs" fill="#000">3</text>
<line x1="558.50" y1="591.46" x2="561.90" y2="591.46" stroke="#000" stroke-width="0.85"/>
<text x="564.80" y="596.06" font-size="10.40" text-anchor="start" textLength="6.11" lengthAdjust="spacingAndGlyphs" fill="#000">4</text>
<line x1="558.50" y1="535.10" x2="561.90" y2="535.10" stroke="#000" stroke-width="0.85"/>
<text x="564.80" y="539.70" font-size="10.40" text-anchor="start" textLength="6.11" lengthAdjust="spacingAndGlyphs" fill="#000">5</text>
<line x1="558.50" y1="478.74" x2="561.90" y2="478.74" stroke="#000" stroke-width="0.85"/>
<text x="564.80" y="483.34" font-size="10.40" text-anchor="start" textLength="6.11" lengthAdjust="spacingAndGlyphs" fill="#000">6</text>
<line x1="558.50" y1="422.38" x2="561.90" y2="422.38" stroke="#000" stroke-width="0.85"/>
<text x="564.80" y="426.98" font-size="10.40" text-anchor="start" textLength="6.11" lengthAdjust="spacingAndGlyphs" fill="#000">7</text>
<line x1="121.00" y1="816.88" x2="121.00" y2="820.28" stroke="#000" stroke-width="0.85"/>
<line x1="133.25" y1="816.88" x2="133.25" y2="820.28" stroke="#000" stroke-width="0.85"/>
<line x1="145.50" y1="816.88" x2="145.50" y2="820.28" stroke="#000" stroke-width="0.85"/>
<line x1="157.75" y1="816.88" x2="157.75" y2="820.28" stroke="#000" stroke-width="0.85"/>
<line x1="170.00" y1="816.88" x2="170.00" y2="820.28" stroke="#000" stroke-width="0.85"/>
<line x1="182.25" y1="816.88" x2="182.25" y2="820.28" stroke="#000" stroke-width="0.85"/>
<line x1="194.50" y1="816.88" x2="194.50" y2="820.28" stroke="#000" stroke-width="0.85"/>
<line x1="206.75" y1="816.88" x2="206.75" y2="820.28" stroke="#000" stroke-width="0.85"/>
<line x1="219.00" y1="816.88" x2="219.00" y2="820.28" stroke="#000" stroke-width="0.85"/>
<line x1="231.25" y1="816.88" x2="231.25" y2="820.28" stroke="#000" stroke-width="0.85"/>
<line x1="243.50" y1="816.88" x2="243.50" y2="820.28" stroke="#000" stroke-width="0.85"/>
<line x1="255.75" y1="816.88" x2="255.75" y2="820.28" stroke="#000" stroke-width="0.85"/>
<line x1="268.00" y1="816.88" x2="268.00" y2="820.28" stroke="#000" stroke-width="0.85"/>
<line x1="280.25" y1="816.88" x2="280.25" y2="820.28" stroke="#000" stroke-width="0.85"/>
<line x1="292.50" y1="816.88" x2="292.50" y2="820.28" stroke="#000" stroke-width="0.85"/>
<line x1="304.75" y1="816.88" x2="304.75" y2="820.28" stroke="#000" stroke-width="0.85"/>
<line x1="317.00" y1="816.88" x2="317.00" y2="820.28" stroke="#000" stroke-width="0.85"/>
<line x1="329.25" y1="816.88" x2="329.25" y2="820.28" stroke="#000" stroke-width="0.85"/>
<line x1="341.50" y1="816.88" x2="341.50" y2="820.28" stroke="#000" stroke-width="0.85"/>
<line x1="353.75" y1="816.88" x2="353.75" y2="820.28" stroke="#000" stroke-width="0.85"/>
<line x1="366.00" y1="816.88" x2="366.00" y2="820.28" stroke="#000" stroke-width="0.85"/>
<line x1="378.25" y1="816.88" x2="378.25" y2="820.28" stroke="#000" stroke-width="0.85"/>
<line x1="390.50" y1="816.88" x2="390.50" y2="820.28" stroke="#000" stroke-width="0.85"/>
<line x1="402.75" y1="816.88" x2="402.75" y2="820.28" stroke="#000" stroke-width="0.85"/>
<line x1="415.00" y1="816.88" x2="415.00" y2="820.28" stroke="#000" stroke-width="0.85"/>
<line x1="427.25" y1="816.88" x2="427.25" y2="820.28" stroke="#000" stroke-width="0.85"/>
<line x1="439.50" y1="816.88" x2="439.50" y2="820.28" stroke="#000" stroke-width="0.85"/>
<line x1="451.75" y1="816.88" x2="451.75" y2="820.28" stroke="#000" stroke-width="0.85"/>
<line x1="464.00" y1="816.88" x2="464.00" y2="820.28" stroke="#000" stroke-width="0.85"/>
<line x1="476.25" y1="816.88" x2="476.25" y2="820.28" stroke="#000" stroke-width="0.85"/>
<line x1="488.50" y1="816.88" x2="488.50" y2="820.28" stroke="#000" stroke-width="0.85"/>
<line x1="500.75" y1="816.88" x2="500.75" y2="820.28" stroke="#000" stroke-width="0.85"/>
<line x1="513.00" y1="816.88" x2="513.00" y2="820.28" stroke="#000" stroke-width="0.85"/>
<line x1="525.25" y1="816.88" x2="525.25" y2="820.28" stroke="#000" stroke-width="0.85"/>
<line x1="537.50" y1="816.88" x2="537.50" y2="820.28" stroke="#000" stroke-width="0.85"/>
<text transform="translate(124.50,824.00) rotate(-90)" font-size="9.45" text-anchor="end" textLength="49.69" lengthAdjust="spacingAndGlyphs" fill="#000">2020-10-18</text>
<text transform="translate(185.75,824.00) rotate(-90)" font-size="9.45" text-anchor="end" textLength="49.69" lengthAdjust="spacingAndGlyphs" fill="#000">2020-11-22</text>
<text transform="translate(247.00,824.00) rotate(-90)" font-size="9.45" text-anchor="end" textLength="49.69" lengthAdjust="spacingAndGlyphs" fill="#000">2020-12-27</text>
<text transform="translate(308.25,824.00) rotate(-90)" font-size="9.45" text-anchor="end" textLength="49.69" lengthAdjust="spacingAndGlyphs" fill="#000">2021-01-31</text>
<text transform="translate(369.50,824.00) rotate(-90)" font-size="9.45" text-anchor="end" textLength="49.69" lengthAdjust="spacingAndGlyphs" fill="#000">2021-03-07</text>
<text transform="translate(430.75,824.00) rotate(-90)" font-size="9.45" text-anchor="end" textLength="49.69" lengthAdjust="spacingAndGlyphs" fill="#000">2021-04-11</text>
<text transform="translate(492.00,824.00) rotate(-90)" font-size="9.45" text-anchor="end" textLength="49.69" lengthAdjust="spacingAndGlyphs" fill="#000">2021-05-16</text>
<text x="321.70" y="363.40" font-size="14.34" text-anchor="middle" textLength="82.68" lengthAdjust="spacingAndGlyphs" fill="#000">Ages: 16-39</text>
<text x="329.20" y="886.80" font-size="14.35" text-anchor="middle" textLength="189.18" lengthAdjust="spacingAndGlyphs" fill="#000">Date (week&#39;s starting date)</text>
<text transform="translate(63.40,595.20) rotate(-90)" font-size="12.65" text-anchor="middle" textLength="225.65" lengthAdjust="spacingAndGlyphs" fill="#000">Number of Acute coronary syndrome</text>
<text transform="translate(77.10,592.70) rotate(-90)" font-size="12.65" text-anchor="middle" textLength="52.29" lengthAdjust="spacingAndGlyphs" fill="#000">calls, (n)</text>
<text transform="translate(584.10,595.00) rotate(-90)" font-size="12.65" text-anchor="middle" textLength="181.58" lengthAdjust="spacingAndGlyphs" fill="#000">Vaccine doses (50,000 doses)</text>
<text transform="translate(597.60,595.15) rotate(-90)" font-size="12.65" text-anchor="middle" textLength="215.97" lengthAdjust="spacingAndGlyphs" fill="#000">and COVID-19 cases (10,000 cases)</text>
<text x="4.00" y="371.90" font-size="17.32" text-anchor="start" textLength="12.58" lengthAdjust="spacingAndGlyphs" fill="#000" font-weight="bold">B</text>
<rect x="168.4" y="376.5" width="321.8" height="105.0" rx="2" ry="2" fill="#fff" fill-opacity="0.8" stroke="#cccccc" stroke-width="0.9"/>
<line x1="170.90" y1="393.60" x2="189.40" y2="393.60" stroke="#ff0000" stroke-width="1.5"/>
<text x="195.80" y="391.20" font-size="9.11" text-anchor="start" textLength="65.86" lengthAdjust="spacingAndGlyphs" fill="#000">Acute coronary</text>
<text x="195.80" y="400.55" font-size="9.11" text-anchor="start" textLength="65.35" lengthAdjust="spacingAndGlyphs" fill="#000">syndrome calls</text>
<line x1="170.90" y1="415.70" x2="189.40" y2="415.70" stroke="#800080" stroke-width="1.5"/>
<text x="195.80" y="413.70" font-size="9.11" text-anchor="start" textLength="77.43" lengthAdjust="spacingAndGlyphs" fill="#000">1st vaccine doses</text>
<text x="195.80" y="423.05" font-size="9.11" text-anchor="start" textLength="65.11" lengthAdjust="spacingAndGlyphs" fill="#000">(50,000 doses)</text>
<line x1="170.90" y1="438.10" x2="189.40" y2="438.10" stroke="#0000ff" stroke-width="1.5"/>
<text x="195.80" y="435.90" font-size="9.11" text-anchor="start" textLength="80.51" lengthAdjust="spacingAndGlyphs" fill="#000">2nd vaccine doses</text>
<text x="195.80" y="445.25" font-size="9.11" text-anchor="start" textLength="65.11" lengthAdjust="spacingAndGlyphs" fill="#000">(50,000 doses)</text>
<line x1="170.90" y1="465.30" x2="189.40" y2="465.30" stroke="#0000ff" stroke-width="1.6" stroke-dasharray="1.5 2.45"/>
<text x="195.80" y="457.80" font-size="9.11" text-anchor="start" textLength="112.86" lengthAdjust="spacingAndGlyphs" fill="#000">2nd vaccine doses shifted</text>
<text x="195.80" y="467.15" font-size="9.11" text-anchor="start" textLength="92.94" lengthAdjust="spacingAndGlyphs" fill="#000">backwards in time by</text>
<text x="195.80" y="476.50" font-size="9.11" text-anchor="start" textLength="103.85" lengthAdjust="spacingAndGlyphs" fill="#000">3-weeks (50,000 doses)</text>
<line x1="324.60" y1="393.70" x2="343.50" y2="393.70" stroke="#00ff00" stroke-width="1.5"/>
<text x="349.90" y="386.80" font-size="9.11" text-anchor="start" textLength="137.84" lengthAdjust="spacingAndGlyphs" fill="#000">Suspected single vaccine doses</text>
<text x="349.90" y="396.25" font-size="9.11" text-anchor="start" textLength="107.61" lengthAdjust="spacingAndGlyphs" fill="#000">for recovered individuals</text>
<text x="349.90" y="405.70" font-size="9.11" text-anchor="start" textLength="125.04" lengthAdjust="spacingAndGlyphs" fill="#000">after 4-1-2021 (2,500 doses)</text>
<line x1="324.60" y1="420.50" x2="343.50" y2="420.50" stroke="#808080" stroke-width="1.5"/>
<text x="349.90" y="417.90" font-size="9.11" text-anchor="start" textLength="69.34" lengthAdjust="spacingAndGlyphs" fill="#000">COVID-19 cases</text>
<text x="349.90" y="427.35" font-size="9.11" text-anchor="start" textLength="64.38" lengthAdjust="spacingAndGlyphs" fill="#000">(10,000 cases)</text>
<line x1="324.60" y1="442.40" x2="343.50" y2="442.40" stroke="#ffc0cb" stroke-width="1.5" stroke-dasharray="5.0 2.1" stroke-opacity="0.75"/>
<text x="349.90" y="440.20" font-size="9.11" text-anchor="start" textLength="112.81" lengthAdjust="spacingAndGlyphs" fill="#000">3rd Public health advisory</text>
<text x="349.90" y="449.65" font-size="9.11" text-anchor="start" textLength="110.85" lengthAdjust="spacingAndGlyphs" fill="#000">(12-24-2020 to 3-7-2020)</text>
<line x1="324.60" y1="464.50" x2="343.50" y2="464.50" stroke="#006400" stroke-width="2.0" stroke-dasharray="4.9 2.1" stroke-opacity="0.75"/>
<text x="349.90" y="462.60" font-size="9.11" text-anchor="start" textLength="104.17" lengthAdjust="spacingAndGlyphs" fill="#000">Vaccinations first began</text>
<text x="349.90" y="472.05" font-size="9.11" text-anchor="start" textLength="57.22" lengthAdjust="spacingAndGlyphs" fill="#000">(2020-12-19)</text>
</svg>
</body></html>
